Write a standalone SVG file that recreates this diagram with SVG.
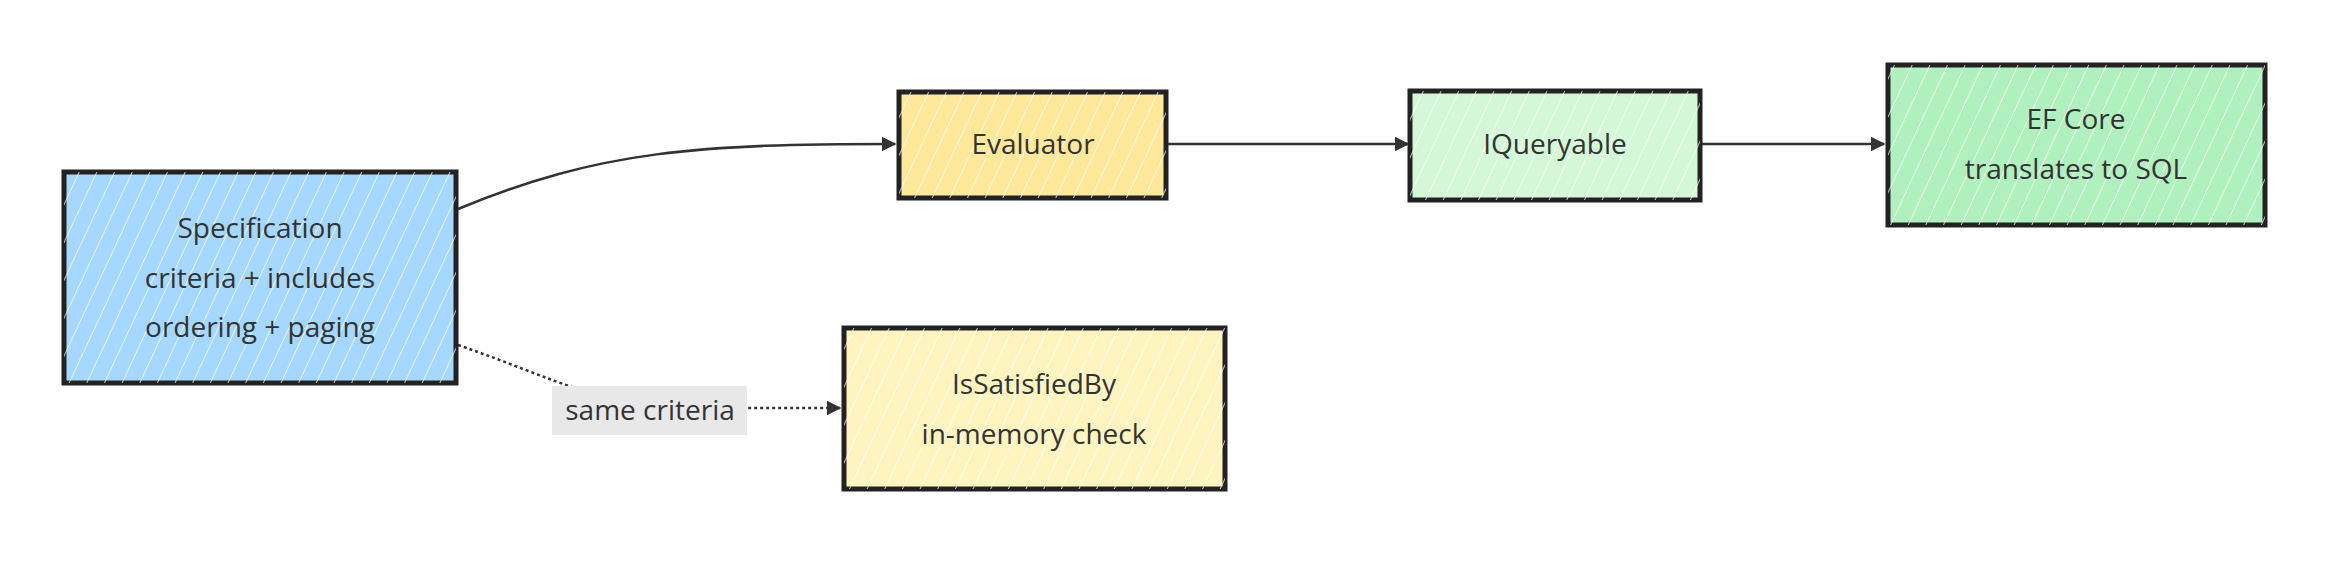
<svg xmlns="http://www.w3.org/2000/svg" width="2352" height="564" viewBox="0 0 2352 564">
<defs>
<marker id="ah" viewBox="0 0 10 10" refX="9" refY="5" markerWidth="6" markerHeight="6" orient="auto"><path d="M0,0 L10,5 L0,10 z" fill="#333"/></marker>
<pattern id="hatch" width="16" height="16" patternUnits="userSpaceOnUse" patternTransform="rotate(25)"><line x1="0" y1="0" x2="0" y2="16" stroke="#fff" stroke-width="2" opacity="0.7"/></pattern>
</defs>
<style>
.box{stroke:#222;stroke-width:5}
.t{font-family:"Open Sans","DejaVu Sans",sans-serif;font-size:28px;fill:#333;text-anchor:middle}
.e{fill:none;stroke:#333;stroke-width:2.5}
</style>
<rect width="2352" height="564" fill="#fff"/>
<g id="edges">
<path class="e" d="M458,209 C600,150 700,144 895,144" marker-end="url(#ah)"/>
<path class="e" d="M1166,144 L1408,144" marker-end="url(#ah)"/>
<path class="e" d="M1700,144 L1884,144" marker-end="url(#ah)"/>
<path class="e" d="M458,345 C560,380 600,408 700,408 L840,408" stroke-dasharray="3,3" marker-end="url(#ah)"/>
<rect x="552" y="386" width="195" height="49" fill="#e8e8e8"/>
<text class="t" x="650" y="420">same criteria</text>
</g>
<g id="spec"><rect class="box" x="64" y="172" width="392" height="211" fill="#a6d8ff"/><rect x="64" y="172" width="392" height="211" fill="url(#hatch)"/>
<text class="t" x="260" y="238">Specification</text><text class="t" x="260" y="288">criteria + includes</text><text class="t" x="260" y="337">ordering + paging</text></g>
<g id="evaluator"><rect class="box" x="899" y="92" width="267" height="106" fill="#ffe89a"/><rect x="899" y="92" width="267" height="106" fill="url(#hatch)"/>
<text class="t" x="1033" y="154">Evaluator</text></g>
<g id="iqueryable"><rect class="box" x="1410" y="91" width="290" height="109" fill="#d4f7d8"/><rect x="1410" y="91" width="290" height="109" fill="url(#hatch)"/>
<text class="t" x="1555" y="154">IQueryable</text></g>
<g id="efcore"><rect class="box" x="1888" y="65" width="377" height="160" fill="#b0f0be"/><rect x="1888" y="65" width="377" height="160" fill="url(#hatch)"/>
<text class="t" x="2076" y="129">EF Core</text><text class="t" x="2076" y="179">translates to SQL</text></g>
<g id="issatisfied"><rect class="box" x="844" y="328" width="381" height="161" fill="#fff4c0"/><rect x="844" y="328" width="381" height="161" fill="url(#hatch)"/>
<text class="t" x="1034" y="394">IsSatisfiedBy</text><text class="t" x="1034" y="444">in-memory check</text></g>
</svg>
